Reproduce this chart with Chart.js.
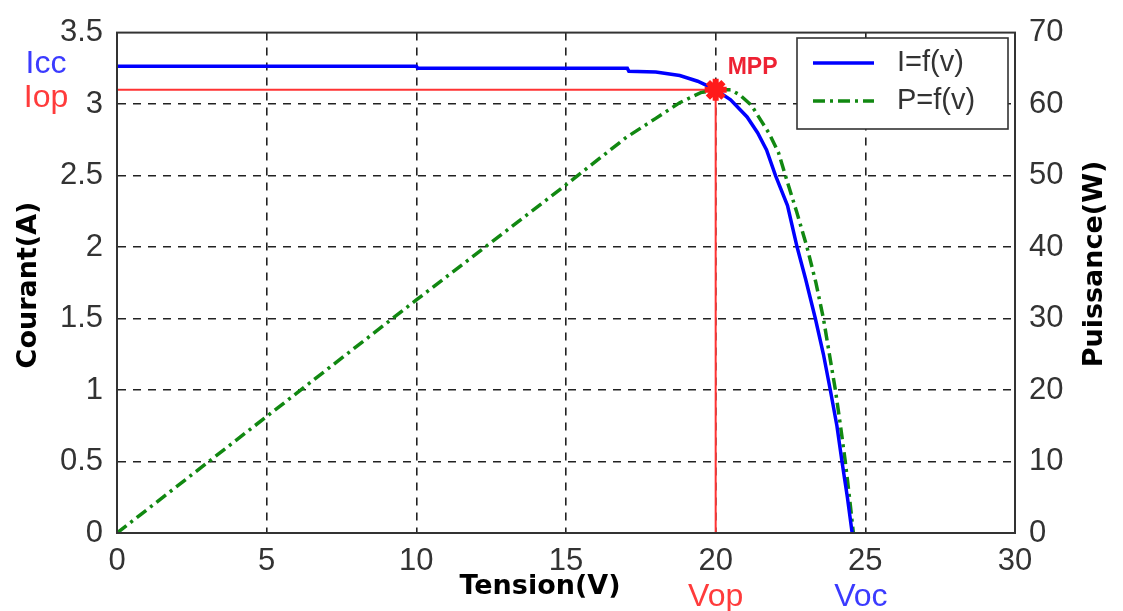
<!DOCTYPE html>
<html>
<head>
<meta charset="utf-8">
<script src="https://cdn.jsdelivr.net/npm/chart.js@4/dist/chart.umd.min.js"></script>
<style>
html,body{margin:0;padding:0;background:#fff;}
#wrap{width:1123px;height:611px;}
</style>
</head>
<body>
<div id="wrap"><canvas id="c" width="1123" height="611"></canvas></div>
<script>
// ---- data ----
const currentV = [0, 10, 10.05, 17.05, 17.1, 18, 18.8, 19.4, 19.8, 20, 20.5, 21.05, 21.4, 21.7, 22.0, 22.4, 22.72, 23.0, 23.33, 23.6, 23.83, 24.05, 24.22, 24.4, 24.56];
const currentI = [3.265, 3.265, 3.25, 3.25, 3.23, 3.225, 3.20, 3.16, 3.12, 3.10, 3.03, 2.91, 2.80, 2.68, 2.50, 2.29, 2.0, 1.78, 1.5, 1.25, 1.0, 0.75, 0.5, 0.25, 0];
const powerV = [0, 5, 10, 15, 17, 18, 18.8, 19.5, 20, 20.5, 20.8, 21.2, 21.5, 21.8, 22.1, 22.33, 22.7, 23.05, 23.35, 23.6, 23.8, 24.0, 24.17, 24.33, 24.47, 24.6];
const powerP = [0, 16.3, 32.6, 48.7, 55.3, 58.0, 60.2, 61.6, 62.0, 62.0, 61.3, 59.8, 57.8, 55.8, 53.2, 50, 45, 40, 35, 30, 25, 20, 15, 10, 5, 0];
const mppV = 20, mppI = 3.1, iccI = 3.265, vocV = 24.85;
const xTicks = [0, 5, 10, 15, 20, 25, 30];
const yTicks = [0, 0.5, 1, 1.5, 2, 2.5, 3, 3.5];
const y2Ticks = [0, 10, 20, 30, 40, 50, 60, 70];
const legendLabels = ['I=f(v)', 'P=f(v)'];

const toPts = (xs, ys) => xs.map((x, i) => ({x, y: ys[i]}));

const tickFont = {family: 'Liberation Sans, Arial, sans-serif', size: 31};
const gridColor = '#222';
const fmt = v => String(v);

const overlay = {
  id: 'overlay',
  afterDatasetsDraw(chart) {
    const {ctx, chartArea: a, scales} = chart;
    const xs = scales.x, ys = scales.y;
    ctx.save();
    // box border
    ctx.strokeStyle = '#333';
    ctx.lineWidth = 2;
    ctx.setLineDash([]);
    ctx.strokeRect(a.left, a.top, a.right - a.left, a.bottom - a.top);

    // side labels
    ctx.font = '32px Liberation Sans, Arial, sans-serif';
    ctx.textAlign = 'center';
    ctx.textBaseline = 'middle';
    ctx.fillStyle = '#3b3bff';
    ctx.fillText('Icc', 46, ys.getPixelForValue(iccI) - 2);
    ctx.fillStyle = '#ff3b3b';
    ctx.fillText('Iop', 46, ys.getPixelForValue(mppI) + 8);
    ctx.textBaseline = 'alphabetic';
    ctx.fillText('Vop', xs.getPixelForValue(mppV), 606);
    ctx.fillStyle = '#3b3bff';
    ctx.fillText('Voc', xs.getPixelForValue(vocV), 606);

    // MPP label
    ctx.font = 'bold 23px Liberation Sans, Arial, sans-serif';
    ctx.fillStyle = '#ee2233';
    ctx.textAlign = 'left';
    ctx.textBaseline = 'middle';
    ctx.fillText('MPP', xs.getPixelForValue(mppV) + 12, ys.getPixelForValue(mppI) - 22);

    // axis titles
    ctx.fillStyle = '#000';
    ctx.font = 'bold 27px DejaVu Sans, sans-serif';
    ctx.textAlign = 'center';
    ctx.textBaseline = 'middle';
    ctx.fillText('Tension(V)', 540, 587);
    ctx.save();
    ctx.translate(29, 285);
    ctx.rotate(-Math.PI / 2);
    ctx.fillText('Courant(A)', 0, 0);
    ctx.restore();
    ctx.save();
    ctx.translate(1095, 264);
    ctx.rotate(-Math.PI / 2);
    ctx.fillText('Puissance(W)', 0, 0);
    ctx.restore();

    // legend
    const lx = 797, ly = 38, lw = 211, lh = 91;
    ctx.fillStyle = '#fff';
    ctx.fillRect(lx, ly, lw, lh);
    ctx.strokeStyle = '#333';
    ctx.lineWidth = 1.6;
    ctx.strokeRect(lx, ly, lw, lh);
    const ds = chart.data.datasets;
    const rows = [{d: ds[1], y: 63}, {d: ds[2], y: 101}];
    rows.forEach((r, i) => {
      ctx.strokeStyle = r.d.borderColor;
      ctx.lineWidth = r.d.borderWidth;
      ctx.setLineDash(r.d.borderDash || []);
      ctx.beginPath();
      ctx.moveTo(813, r.y);
      ctx.lineTo(874, r.y);
      ctx.stroke();
      ctx.setLineDash([]);
      ctx.fillStyle = '#333';
      ctx.font = '29px Liberation Sans, Arial, sans-serif';
      ctx.textAlign = 'left';
      ctx.textBaseline = 'middle';
      ctx.fillText(legendLabels[i], 897, r.y);
    });
    ctx.restore();
  }
};

new Chart(document.getElementById('c'), {
  type: 'line',
  data: {
    datasets: [
      {
        label: 'MPP', data: [{x: mppV, y: mppI}], yAxisID: 'y',
        showLine: false, pointStyle: 'star', pointRadius: 11, pointBorderWidth: 6,
        borderColor: '#ff1a1a', backgroundColor: '#ff1a1a', order: 0
      },
      {
        label: legendLabels[0], data: toPts(currentV, currentI), yAxisID: 'y',
        borderColor: '#0000ff', borderWidth: 3.5, pointRadius: 0, tension: 0, order: 1
      },
      {
        label: legendLabels[1], data: toPts(powerV, powerP), yAxisID: 'y2',
        borderColor: '#118811', borderWidth: 3.5, borderDash: [12, 5, 3, 5], pointRadius: 0, tension: 0, order: 2
      },
      {
        label: 'Iop line', data: [{x: 0, y: mppI}, {x: mppV, y: mppI}], yAxisID: 'y',
        borderColor: '#ff3333', borderWidth: 2, pointRadius: 0, order: 3
      },
      {
        label: 'Vop line', data: [{x: mppV, y: mppI}, {x: mppV, y: 0}], yAxisID: 'y',
        borderColor: '#ff3333', borderWidth: 2, pointRadius: 0, order: 3
      }
    ]
  },
  options: {
    responsive: false,
    animation: false,
    devicePixelRatio: 1,
    layout: {padding: {top: 29, left: 0, right: 0, bottom: 0}},
    plugins: {legend: {display: false}, tooltip: {enabled: false}},
    scales: {
      x: {
        type: 'linear', min: 0, max: 30,
        afterBuildTicks: s => { s.ticks = xTicks.map(v => ({value: v})); },
        afterFit: s => { s.height = 78; },
        ticks: {font: tickFont, color: '#333', padding: 10, maxRotation: 0, callback: fmt},
        grid: {color: c => (c.tick && (c.tick.value === 0 || c.tick.value === 30)) ? 'rgba(0,0,0,0)' : gridColor, lineWidth: 1.6, drawTicks: false},
        border: {display: true, color: '#333', width: 2, dash: [8, 7]}
      },
      y: {
        type: 'linear', position: 'left', min: 0, max: 3.5,
        afterBuildTicks: s => { s.ticks = yTicks.map(v => ({value: v})); },
        afterFit: s => { s.width = 117; },
        ticks: {font: tickFont, color: '#333', padding: 14, callback: fmt},
        grid: {color: c => (c.tick && (c.tick.value === 0 || c.tick.value === 3.5)) ? 'rgba(0,0,0,0)' : gridColor, lineWidth: 1.6, drawTicks: false},
        border: {display: true, color: '#333', width: 2, dash: [8, 7]}
      },
      y2: {
        type: 'linear', position: 'right', min: 0, max: 70,
        afterBuildTicks: s => { s.ticks = y2Ticks.map(v => ({value: v})); },
        afterFit: s => { s.width = 108; },
        ticks: {font: tickFont, color: '#333', padding: 14, callback: fmt},
        grid: {drawOnChartArea: false, drawTicks: false},
        border: {display: true, color: '#333', width: 2}
      }
    }
  },
  plugins: [overlay]
});
</script>
</body>
</html>
